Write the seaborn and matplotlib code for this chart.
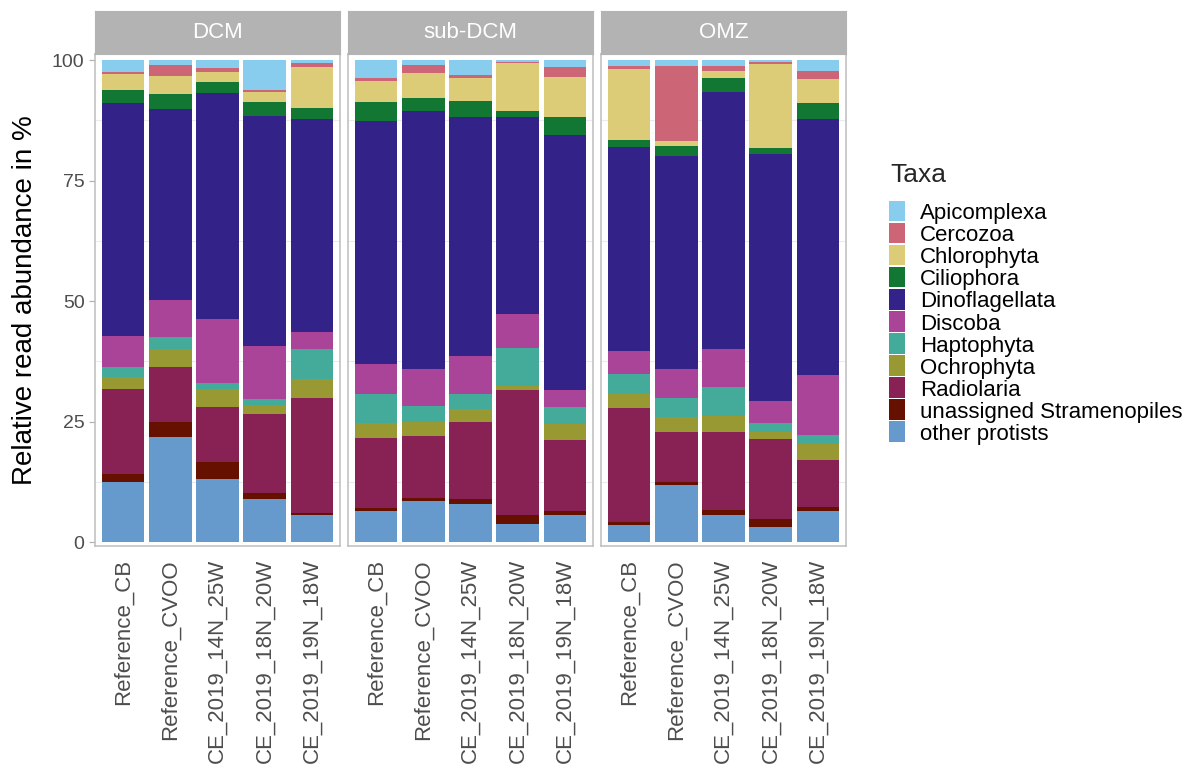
import numpy as np
import pandas as pd
import matplotlib
matplotlib.use("Agg")
import matplotlib.pyplot as plt
from matplotlib.patches import Rectangle
from matplotlib.ticker import FixedLocator
import seaborn as sns

# ---------------- data ----------------
depths = ["DCM", "sub-DCM", "OMZ"]
samples = ["Reference_CB", "Reference_CVOO", "CE_2019_14N_25W",
           "CE_2019_18N_20W", "CE_2019_19N_18W"]
# legend order (top of stack first)
taxa = ["Apicomplexa", "Cercozoa", "Chlorophyta", "Ciliophora", "Dinoflagellata",
        "Discoba", "Haptophyta", "Ochrophyta", "Radiolaria",
        "unassigned Stramenopiles", "other protists"]
taxa_colors = ["#88CCEE", "#CC6677", "#DDCC77", "#117733", "#332288",
               "#AA4499", "#44AA99", "#999933", "#882255", "#661100", "#6699CC"]

# relative abundance (%) per taxon: DCM x5, sub-DCM x5, OMZ x5 (sample order above)
apicomplexa    = [2.4, 1.1, 1.7, 6.2, 0.6,   3.8, 1.1, 3.0, 0.4, 1.4,   1.2, 1.2, 1.2, 0.4, 2.2]
cercozoa       = [0.4, 2.1, 0.7, 0.4, 0.8,   0.6, 1.6, 0.8, 0.3, 2.1,   0.7, 15.6, 1.1, 0.4, 1.7]
chlorophyta    = [3.5, 3.9, 2.2, 2.0, 8.6,   4.4, 5.2, 4.7, 9.9, 8.3,   14.6, 1.0, 1.4, 17.5, 5.0]
ciliophora     = [2.7, 3.1, 2.2, 3.0, 2.2,   3.9, 2.7, 3.3, 1.2, 3.8,   1.6, 2.1, 2.9, 1.2, 3.3]
dinoflagellata = [48.2, 39.6, 46.9, 47.7, 44.2, 50.4, 53.5, 49.6, 40.9, 52.9, 42.3, 44.2, 53.4, 51.2, 53.2]
discoba        = [6.5, 7.7, 13.3, 11.0, 3.5,  6.2, 7.7, 7.9, 7.1, 3.4,   4.7, 6.1, 7.9, 4.7, 12.4]
haptophyta     = [2.1, 2.4, 1.2, 1.2, 6.3,   6.1, 3.2, 3.1, 7.8, 3.6,   4.2, 3.9, 5.9, 1.7, 1.8]
ochrophyta     = [2.4, 3.7, 3.7, 2.0, 4.0,   3.1, 3.1, 2.8, 0.9, 3.3,   2.8, 3.1, 3.4, 1.5, 3.3]
radiolaria     = [17.7, 11.5, 11.6, 16.3, 23.7, 14.5, 12.7, 15.9, 25.9, 14.8, 23.8, 10.4, 16.2, 16.6, 9.8]
unassigned_str = [1.6, 3.1, 3.5, 1.3, 0.4,   0.5, 0.6, 1.0, 1.9, 0.8,   0.6, 0.6, 0.9, 1.7, 0.9]
other_protists = [12.5, 21.8, 13.0, 8.9, 5.7, 6.5, 8.6, 7.9, 3.7, 5.6,   3.5, 11.8, 5.7, 3.1, 6.4]

series = [apicomplexa, cercozoa, chlorophyta, ciliophora, dinoflagellata, discoba,
          haptophyta, ochrophyta, radiolaria, unassigned_str, other_protists]

rows = []
for taxon, vals in zip(taxa, series):
    for k, v in enumerate(vals):
        rows.append({"depth": depths[k // 5], "sample": samples[k % 5],
                     "taxon": taxon, "value": v})
df = pd.DataFrame(rows)
# stack from bottom (other protists) to top (Apicomplexa)
df["order"] = df["taxon"].map({t: len(taxa) - 1 - i for i, t in enumerate(taxa)})
df = df.sort_values(["depth", "sample", "order"])
df["cum"] = df.groupby(["depth", "sample"])["value"].cumsum()

# ---------------- figure ----------------
sns.set_style("white")
plt.rcParams["font.family"] = ["Liberation Sans", "DejaVu Sans"]

W, H = 1199, 771
fig = plt.figure(figsize=(W / 100, H / 100), dpi=100)

panel_left = [95, 348, 601]
panel_w = 245
panel_top, panel_bot = 54.3, 546
strip_top = 10.7
border_col = "#B3B3B3"
tick_col = "#4D4D4D"

for d_i, depth in enumerate(depths):
    ax = fig.add_axes([panel_left[d_i] / W, (H - panel_bot) / H,
                       panel_w / W, (panel_bot - panel_top) / H])
    sub = df[df["depth"] == depth]
    for taxon, col in zip(taxa, taxa_colors):
        sns.barplot(data=sub[sub["taxon"] == taxon], x="sample", y="cum",
                    order=samples, color=col, width=0.9, saturation=1,
                    errorbar=None, linewidth=0, ax=ax)
    ax.set_xlim(-0.6, 4.6)
    ax.set_ylim(-0.83, 101.2)
    ax.set_xlabel("")
    ax.set_ylabel("")
    ax.set_yticks([0, 25, 50, 75, 100])
    ax.yaxis.set_minor_locator(FixedLocator([12.5, 37.5, 62.5, 87.5]))
    ax.grid(False)
    ax.grid(which="minor", axis="y", color="#EBEBEB", linewidth=0.8)
    ax.set_axisbelow(True)
    for s in ax.spines.values():
        s.set_color("#BDBDBD")
        s.set_linewidth(1.1)
    ax.tick_params(axis="x", which="major", length=4, width=0.9, color=border_col,
                   pad=5.5, labelsize=16, labelcolor=tick_col)
    ax.tick_params(axis="y", which="minor", length=0)
    for lab in ax.get_xticklabels():
        lab.set_rotation(90)
        lab.set_ha("center")
        lab.set_va("top")
    if d_i == 0:
        ax.tick_params(axis="y", which="major", length=4, width=0.9, color=border_col,
                       pad=3.5, labelsize=14, labelcolor=tick_col, left=True)
    else:
        ax.tick_params(axis="y", which="major", left=False, labelleft=False)

    # facet strip
    sax = fig.add_axes([panel_left[d_i] / W, (H - panel_top) / H,
                        panel_w / W, (panel_top - strip_top) / H])
    sax.set_facecolor(border_col)
    sax.set_xticks([])
    sax.set_yticks([])
    for s in sax.spines.values():
        s.set_color(border_col)
    sax.text(0.5, 0.5, depth, transform=sax.transAxes, ha="center", va="center",
             color="white", fontsize=16)

# y axis title
fig.text(31.7 / W, (H - 300) / H, "Relative read abundance in %", rotation=90,
         rotation_mode="anchor", ha="center", va="baseline", fontsize=20, color="black")

# legend
fig.text(890 / W, (H - 181.7) / H, "Taxa", fontsize=19, ha="left", va="baseline")
for i, (taxon, col) in enumerate(zip(taxa, taxa_colors)):
    top = 200.7 + i * 22.05
    fig.patches.append(Rectangle((888.7 / W, (H - top - 20.6) / H), 16.3 / W, 20.6 / H,
                                 transform=fig.transFigure, facecolor=col,
                                 edgecolor="none"))
    fig.text(920 / W, (H - top - 18.6) / H, taxon, fontsize=16, ha="left",
             va="baseline", color="black")

fig.savefig("out.png", dpi=100)
